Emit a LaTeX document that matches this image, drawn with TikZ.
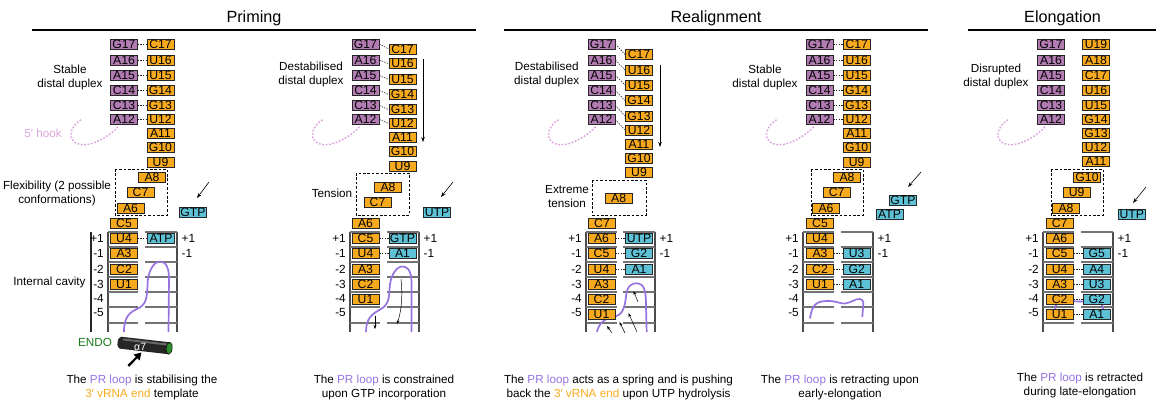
\documentclass[tikz,border=0pt]{standalone}
\usepackage{fontspec}
\setmainfont{Liberation Sans}
\usetikzlibrary{arrows.meta}

\definecolor{ntorange}{HTML}{F8AA1E}
\definecolor{ntpurple}{HTML}{B27BB2}
\definecolor{ntblue}{HTML}{5EC2D6}
\definecolor{loopc}{HTML}{9673E0}
\definecolor{hookc}{HTML}{DBA3DB}
\definecolor{endoc}{HTML}{1B7A1B}
\definecolor{helixend}{HTML}{2E8B2E}

\tikzset{
  nt/.style={draw=black!85, line width=0.7pt, minimum width=27pt, minimum height=9.8pt,
    inner sep=0pt, font=\fontsize{12.2}{12.2}\selectfont},
  ntO/.style={nt, fill=ntorange},
  ntP/.style={nt, fill=ntpurple},
  ntB/.style={nt, fill=ntblue},
  pair/.style={dash pattern=on 1.4pt off 1.2pt, line width=0.6pt, black!85},
  lbl/.style={font=\fontsize{11.7}{14}\selectfont, align=center, inner sep=0pt},
  posn/.style={font=\fontsize{11.8}{12}\selectfont, inner sep=0pt},
  wall/.style={line width=1.3pt, black!70},
  rung/.style={line width=1.3pt, black!55},
  dashbox/.style={dash pattern=on 2.6pt off 1.8pt, line width=0.8pt},
  hook/.style={hookc, line width=1.4pt, dash pattern=on 1.8pt off 1.6pt},
  prloop/.style={loopc, line width=1.7pt},
  push/.style={line width=0.5pt, -{Stealth[length=4pt,width=3pt]}},
  slide/.style={line width=0.6pt, -{Stealth[length=5pt,width=3.5pt]}},
  header/.style={font=\fontsize{16.2}{18}\selectfont, inner sep=0pt, anchor=base},
  rule/.style={line width=1.2pt},
}

% cavity: #1 prefix, #2 left wall, #3 gap start, #4 gap end, #5 right wall
\newcommand\drawcavity[5]{%
  \draw[wall] (#2,232) -- (#2,332);
  \draw[wall] (#5,232) -- (#5,332);
  \foreach \yy in {232,247,262,277,292,307,323} {
    \draw[rung] (#2,\yy) -- (#3,\yy);
    \draw[rung] (#4,\yy) -- (#5,\yy);
  }
  \foreach \lab/\yy [count=\k] in {+1/238,-1/253.5,-2/269,-3/284,-4/298,-5/312}
    \node[posn, anchor=east] (#1L\k) at (#2-4,\yy) {\lab};
  \node[posn, anchor=west] (#1R1) at (#5+4.5,238) {+1};
  \node[posn, anchor=west] (#1R2) at (#5+4.5,253.5) {-1};
}

% 5' hook hanging from the A12 box
\newcommand\distalhook[1]{%
  \begin{scope}[shift={(#1.south)}]
    \draw[hook] (-6,2) .. controls (-15,12) and (-30,20) .. (-40,20)
      .. controls (-50,20) and (-54,14) .. (-53,8)
      .. controls (-52,3) and (-48,-2) .. (-43,-5);
  \end{scope}}

\begin{document}
\begin{tikzpicture}[x=1pt,y=-1pt]
\useasboundingbox (0,0) rectangle (1162,402);

% ---------- headers ----------
\node[header] (hprim) at (254,22.7) {Priming};
\node[header] (hreal) at (716,22.7) {Realignment};
\node[header] (helon) at (1062.5,22.7) {Elongation};
\draw[rule] (32,30) -- (476,30);
\draw[rule] (504,30) -- (928,30);
\draw[rule] (968,30) -- (1156,30);

% ================= Panel 1 =================
\foreach \p/\o/\y in {G17/C17/44, A16/U16/60, A15/U15/75.5, C14/G14/90.5, C13/G13/105.5, A12/U12/119.5} {
  \node[ntP] (aP\p) at (124,\y) {\p};
  \node[ntO] (aO\o) at (160.5,\y) {\o};
  \draw[pair] (aP\p.east) -- (aO\o.west);
}
\foreach \o/\y in {A11/133.5, G10/147.5, U9/162}
  \node[ntO] (aO\o) at (160.5,\y) {\o};
\distalhook{aPA12}
\node[lbl] (alab1) at (70,77) {Stable\\distal duplex};
\node[lbl, text=hookc] (alab2) at (43,133) {5′ hook};
\node[lbl] (alab3) at (57,193) {Flexibility (2 possible\\conformations)};
\node[lbl] (alab4) at (49.5,282) {Internal cavity};
\draw[dashbox] (115,169) rectangle (167,215);
\node[ntO] (aOA8) at (152,177) {A8};
\node[ntO] (aOC7) at (140.5,192) {C7};
\node[ntO] (aOA6) at (130.5,208) {A6};
\node[ntO] (aOC5) at (124,223) {C5};
\coordinate (aS1) at (209,182);
\coordinate (aS2) at (197,198);
\draw[slide] (aS1) -- (aS2);
\node[ntB] (aGTP) at (193,212) {GTP};
\draw[line width=1.1pt, black!85] (91,232) -- (91,332);
\drawcavity{a}{108}{138}{145}{177}
\draw[prloop] (124,332) .. controls (124,316) and (130,312) .. (139,308)
  .. controls (146,304) and (147,298) .. (147.5,285)
  .. controls (148,258) and (169,252) .. (169,278) -- (168.5,332);
\foreach \o/\y in {U4/238, A3/253.5, C2/269, U1/284}
  \node[ntO] (aO\o) at (124,\y) {\o};
\node[ntB] (aATP) at (161,238) {ATP};
\draw[pair] (aOU4.east) -- (aATP.west);
% alpha7 helix of the endonuclease
\node[lbl, text=endoc] (alab5) at (95,342) {ENDO};
\begin{scope}[shift={(120.5,342.7)}, rotate=-6.5]
  \fill[black!85] (0,-6) rectangle (49,6);
  \fill[black!85] (0,0) ellipse [x radius=3, y radius=6];
  \fill[black!60] (2,-4.5) rectangle (47,-2.5);
  \fill[helixend] (49,0) ellipse [x radius=3, y radius=6];
  \draw[black, line width=0.5pt] (49,0) ellipse [x radius=3, y radius=6];
  \node[text=white, font=\fontsize{10.5}{11}\selectfont, inner sep=0pt] (ahelix) at (20,1.5) {α7};
\end{scope}
\coordinate (aH1) at (128.3,366);
\coordinate (aH2) at (141.5,352.5);
\draw[line width=2.2pt, -{Triangle[length=7pt,width=8pt]}] (aH1) -- (aH2);
\node[lbl] (acap) at (142,387.5) {The \textcolor{loopc}{PR loop} is stabilising the\\\textcolor{ntorange}{3′ vRNA end} template};

% ================= Panel 2 =================
\foreach \p/\o/\yp/\yo in {G17/C17/44/49, A16/U16/60/63.7, A15/U15/75.5/79.3, C14/G14/90.5/94.5, C13/G13/105.5/109.7, A12/U12/119.5/123.3} {
  \node[ntP] (bP\p) at (365.5,\yp) {\p};
  \node[ntO] (bO\o) at (402.5,\yo) {\o};
  \draw[pair] (bP\p.east) -- (bO\o.west);
}
\foreach \o/\y in {A11/137, G10/151, U9/166}
  \node[ntO] (bO\o) at (402.5,\y) {\o};
\coordinate (bV1) at (423,59);
\coordinate (bV2) at (423,142);
\draw[slide] (bV1) -- (bV2);
\distalhook{bPA12}
\node[lbl] (blab1) at (311,74) {Destabilised\\distal duplex};
\node[lbl] (blab2) at (332,193) {Tension};
\draw[dashbox] (356,173) rectangle (409,215);
\node[ntO] (bOA8) at (388,187) {A8};
\node[ntO] (bOC7) at (377.5,202) {C7};
\node[ntO] (bOA6) at (365.5,223.5) {A6};
\coordinate (bS1) at (453,182);
\coordinate (bS2) at (441,197);
\draw[slide] (bS1) -- (bS2);
\node[ntB] (bUTP) at (437,212) {UTP};
\drawcavity{b}{350}{380}{387}{419}
\draw[prloop] (366,332) .. controls (366,318) and (372,314) .. (381,309)
  .. controls (388,305) and (389,299) .. (389.5,290)
  .. controls (390,263) and (412,257) .. (411.5,283) -- (411.5,332);
\coordinate (bA1) at (375,316);
\coordinate (bA2) at (375,329);
\draw[push] (bA1) -- (bA2);
\coordinate (bB1) at (401,279);
\coordinate (bB2) at (397,324);
\draw[push] (bB1) .. controls (403,298) and (401,312) .. (bB2);
\foreach \o/\y in {C5/238, U4/253.5, A3/269, C2/284, U1/299}
  \node[ntO] (bO\o) at (365.5,\y) {\o};
\node[ntB] (bGTP) at (402.5,238) {GTP};
\node[ntB] (bA1n) at (402.5,253.5) {A1};
\draw[pair] (bOC5.east) -- (bGTP.west);
\draw[pair] (bOU4.east) -- (bA1n.west);
\node[lbl] (bcap) at (384,387.5) {The \textcolor{loopc}{PR loop} is constrained\\upon GTP incorporation};

% ================= Panel 3 =================
\foreach \p/\o/\yp/\yo in {G17/C17/44/54.6, A16/U16/60/70, A15/U15/75.5/85, C14/G14/90.5/100.7, C13/G13/105.5/116, A12/U12/119.5/130} {
  \node[ntP] (cP\p) at (601.5,\yp) {\p};
  \node[ntO] (cO\o) at (639,\yo) {\o};
  \draw[pair] (cP\p.east) -- (cO\o.west);
}
\foreach \o/\y in {A11/144.7, G10/158, U9/172.3}
  \node[ntO] (cO\o) at (639,\y) {\o};
\coordinate (cV1) at (660,65);
\coordinate (cV2) at (660,147);
\draw[slide] (cV1) -- (cV2);
\distalhook{cPA12}
\node[lbl] (clab1) at (546.7,74) {Destabilised\\distal duplex};
\node[lbl] (clab2) at (567,197) {Extreme\\tension};
\draw[dashbox] (592,180) rectangle (646,215);
\node[ntO] (cOA8) at (618.7,198) {A8};
\node[ntO] (cOC7) at (602,223) {C7};
\drawcavity{c}{586}{617}{623}{655}
\draw[prloop] (597,332) .. controls (599,322) and (606,318) .. (615,316.7)
  .. controls (622,315) and (625,308) .. (626,296)
  .. controls (627,284) and (634,283) .. (637,283.3)
  .. controls (645,284) and (646,292) .. (646,307) -- (646.7,332);
\foreach \i/\xa/\ya/\xb/\yb in {1/638/302/633.5/291, 2/637/332/628.5/313, 3/625/333/619.5/322, 4/612/333/607/326} {
  \coordinate (cP\i a) at (\xa,\ya);
  \coordinate (cP\i b) at (\xb,\yb);
  \draw[push] (cP\i a) -- (cP\i b);
}
\foreach \o/\y in {A6/238, C5/253.5, U4/269, A3/284, C2/299, U1/314}
  \node[ntO] (cO\o) at (601.5,\y) {\o};
\node[ntB] (cUTP) at (639,238) {UTP};
\node[ntB] (cG2) at (639,253.5) {G2};
\node[ntB] (cA1) at (639,269) {A1};
\draw[pair] (cOA6.east) -- (cUTP.west);
\draw[pair] (cOC5.east) -- (cG2.west);
\draw[pair] (cOU4.east) -- (cA1.west);
\node[lbl] (ccap) at (618.5,387.5) {The \textcolor{loopc}{PR loop} acts as a spring and is pushing\\back the \textcolor{ntorange}{3′ vRNA end} upon UTP hydrolysis};

% ================= Panel 4 =================
\foreach \p/\o/\y in {G17/C17/44, A16/U16/60, A15/U15/75.5, C14/G14/90.5, C13/G13/105.5, A12/U12/119.5} {
  \node[ntP] (dP\p) at (819.5,\y) {\p};
  \node[ntO] (dO\o) at (856.7,\y) {\o};
  \draw[pair] (dP\p.east) -- (dO\o.west);
}
\foreach \o/\y in {A11/133.5, G10/147.5, U9/162}
  \node[ntO] (dO\o) at (856.7,\y) {\o};
\distalhook{dPA12}
\node[lbl] (dlab1) at (765,77) {Stable\\distal duplex};
\draw[dashbox] (811,169) rectangle (863,215);
\node[ntO] (dOA8) at (847,177) {A8};
\node[ntO] (dOC7) at (836.7,192) {C7};
\node[ntO] (dOA6) at (826,208) {A6};
\node[ntO] (dOC5) at (820,223) {C5};
\coordinate (dS1) at (921,172);
\coordinate (dS2) at (908,187);
\draw[slide] (dS1) -- (dS2);
\node[ntB] (dGTP) at (903,200.5) {GTP};
\node[ntB] (dATP) at (889.5,214) {ATP};
\drawcavity{d}{803}{834}{841}{873}
\draw[prloop] (810,318.5) .. controls (812,305) and (816,301.5) .. (826,301)
  .. controls (836,300.5) and (840,304) .. (845,303.5)
  .. controls (852,302.5) and (855,298.5) .. (860,299)
  .. controls (864,299.5) and (863.5,304) .. (863,308) -- (862.3,317);
\foreach \o/\y in {U4/238, A3/253.5, C2/269, U1/284}
  \node[ntO] (dO\o) at (820,\y) {\o};
\node[ntB] (dU3) at (856.7,253.5) {U3};
\node[ntB] (dG2) at (856.7,269) {G2};
\node[ntB] (dA1) at (856.7,284) {A1};
\draw[pair] (dOA3.east) -- (dU3.west);
\draw[pair] (dOC2.east) -- (dG2.west);
\draw[pair] (dOU1.east) -- (dA1.west);
\node[lbl] (dcap) at (840,387.5) {The \textcolor{loopc}{PR loop} is retracting upon\\early-elongation};

% ================= Panel 5 =================
\foreach \p/\y in {G17/44, A16/60, A15/75.5, C14/90.5, C13/105.5, A12/119.5}
  \node[ntP] (eP\p) at (1051,\y) {\p};
\foreach \o/\y in {U19/44, A18/60, C17/75.5, U16/90.5, U15/105.5, G14/119.5, G13/133.7, U12/147, A11/161.3}
  \node[ntO] (eO\o) at (1096,\y) {\o};
\distalhook{ePA12}
\node[lbl] (elab1) at (996,76) {Disrupted\\distal duplex};
\draw[dashbox] (1051,169) rectangle (1103,215);
\node[ntO] (eOG10) at (1087,177) {G10};
\node[ntO] (eOU9) at (1076.7,192) {U9};
\node[ntO] (eOA8) at (1066,208) {A8};
\node[ntO] (eOC7) at (1059.7,223) {C7};
\coordinate (eS1) at (1146,187);
\coordinate (eS2) at (1133,203);
\draw[slide] (eS1) -- (eS2);
\node[ntB] (eUTP) at (1131.7,214.7) {UTP};
\drawcavity{e}{1043}{1074}{1081}{1113}
\draw[prloop] (1055,311) .. controls (1055,303) and (1058,301) .. (1065,301)
  -- (1095,302) .. controls (1101,302) and (1103,304) .. (1103,311);
\foreach \o/\y in {A6/238, C5/253.5, U4/269, A3/284, C2/299, U1/314}
  \node[ntO] (eO\o) at (1059.7,\y) {\o};
\foreach \b/\y in {G5/253.5, A4/269, U3/284, G2/299, A1/314}
  \node[ntB] (eB\b) at (1096.7,\y) {\b};
\draw[pair] (eOC5.east) -- (eBG5.west);
\draw[pair] (eOU4.east) -- (eBA4.west);
\draw[pair] (eOA3.east) -- (eBU3.west);
\draw[pair] (eOC2.east) -- (eBG2.west);
\draw[pair] (eOU1.east) -- (eBA1.west);
\node[lbl] (ecap) at (1080,385) {The \textcolor{loopc}{PR loop} is retracted\\during late-elongation};

\end{tikzpicture}
\end{document}
